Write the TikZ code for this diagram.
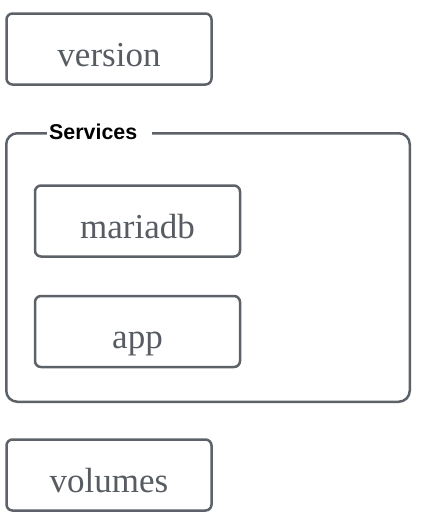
\documentclass[tikz,border=0pt]{standalone}
\usepackage{fontspec}
\usepackage{tikz}
\usetikzlibrary{positioning}
\newfontfamily\titlefont{Liberation Sans}
\newfontfamily\keyfont{Liberation Serif}
\definecolor{boxgrey}{HTML}{5D6269}
\definecolor{textgrey}{HTML}{575C63}
\tikzset{
  keybox/.style={rectangle, draw=boxgrey, line width=2.5pt, rounded corners=6pt,
                 minimum width=205pt, minimum height=71pt, inner sep=0pt,
                 font=\keyfont\fontsize{35}{42}\selectfont, text=textgrey,
                 text height=34pt, text depth=0pt},
  groupbox/.style={rectangle, draw=boxgrey, line width=2.5pt, rounded corners=11pt,
                   minimum width=403.5pt, minimum height=268.5pt},
  grouplabel/.style={fill=white, inner xsep=2pt, inner ysep=1pt, text width=101pt,
                     align=left, font=\titlefont\bfseries\fontsize{21.4}{24}\selectfont},
}
\begin{document}
\begin{tikzpicture}[x=1pt, y=-1pt]
  \useasboundingbox (0,0) rectangle (425,517);

  \node[keybox] (version) at (109,49) {version};

  \node[groupbox] (services) at (208,267.5) {};
  \node[grouplabel, anchor=west] (servicestitle) at (47,132) {Services};

  \node[keybox] (mariadb) at (137.5,221) {mariadb};
  \node[keybox] (app) [below=37pt of mariadb] {app};

  \node[keybox] (volumes) at (109,475) {volumes};
\end{tikzpicture}
\end{document}
